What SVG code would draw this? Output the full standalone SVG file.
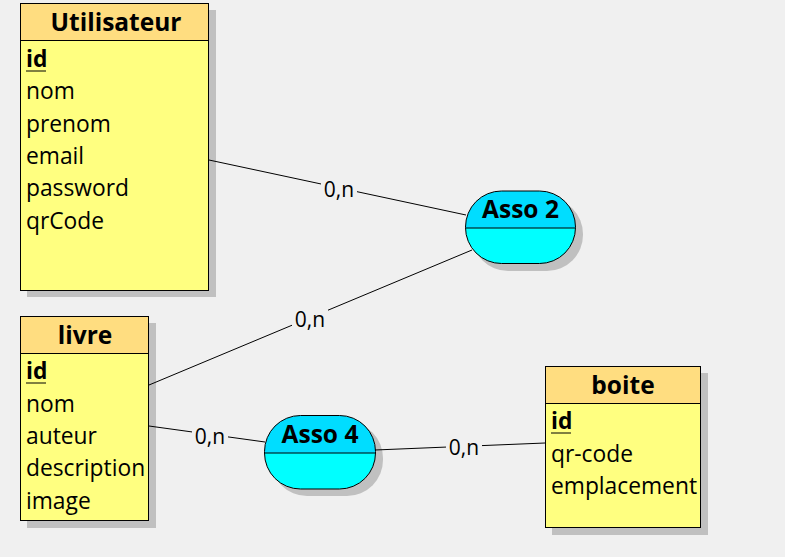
<svg xmlns="http://www.w3.org/2000/svg" width="785" height="557" viewBox="0 0 785 557">
<style>
.shadow{fill:#c0c0c0}
.head{fill:#ffdd80;stroke:#000;stroke-width:1}
.body{fill:#ffff80;stroke:#000;stroke-width:1}
.ahead{fill:#00ddff}
.abody{fill:#00ffff}
.aout{fill:none;stroke:#000;stroke-width:1}
.title{font-family:"Open Sans","DejaVu Sans",sans-serif;font-weight:bold;font-size:24.5px;text-anchor:middle;fill:#000}
.attr{font-family:"Open Sans","DejaVu Sans",sans-serif;font-size:22.8px;fill:#000}
.lbl{font-family:"Open Sans","DejaVu Sans",sans-serif;font-size:21px;fill:#000;text-anchor:middle}
.edge{stroke:#000;stroke-width:1;fill:none}
.bg{fill:#f0f0f0}
</style>
<rect width="785" height="557" fill="#f0f0f0"/>
<g id="Utilisateur">
<rect class="shadow" x="27" y="10" width="189" height="287"/>
<rect class="body" x="20.5" y="3.5" width="188" height="287"/>
<rect class="head" x="20.5" y="3.5" width="188" height="37"/>
<text class="title" x="116" y="31">Utilisateur</text>
<text class="attr" x="26" y="67" font-weight="bold">id</text>
<line x1="26" y1="71" x2="46" y2="71" stroke="#000" stroke-width="1"/>
<text class="attr" x="26" y="99">nom</text>
<text class="attr" x="26" y="132">prenom</text>
<text class="attr" x="26" y="164">email</text>
<text class="attr" x="26" y="196">password</text>
<text class="attr" x="26" y="229">qrCode</text>
</g>
<g id="livre">
<rect class="shadow" x="27" y="323" width="129" height="205"/>
<rect class="body" x="20.5" y="316.5" width="128" height="204"/>
<rect class="head" x="20.5" y="316.5" width="128" height="37"/>
<text class="title" x="85" y="344">livre</text>
<text class="attr" x="26" y="379" font-weight="bold">id</text>
<line x1="26" y1="383" x2="46" y2="383" stroke="#000" stroke-width="1"/>
<text class="attr" x="26" y="412">nom</text>
<text class="attr" x="26" y="444">auteur</text>
<text class="attr" x="26" y="476">description</text>
<text class="attr" x="26" y="509">image</text>
</g>
<g id="boite">
<rect class="shadow" x="552" y="373" width="156" height="162"/>
<rect class="body" x="545.5" y="366.5" width="155" height="161"/>
<rect class="head" x="545.5" y="366.5" width="155" height="37"/>
<text class="title" x="623" y="394">boite</text>
<text class="attr" x="551" y="429" font-weight="bold">id</text>
<line x1="551" y1="433" x2="571" y2="433" stroke="#000" stroke-width="1"/>
<text class="attr" x="551" y="462">qr-code</text>
<text class="attr" x="551" y="494">emplacement</text>
</g>
<g id="Asso2">
<rect class="shadow" x="472" y="198" width="111" height="73" rx="36" ry="36"/>
<path class="abody" d="M465.5,228 L575.5,228 L575.5,227 A36,36 0 0 1 539.5,263.5 L501.5,263.5 A36,36 0 0 1 465.5,227.5 Z"/>
<path class="ahead" d="M465.5,228 L465.5,227 A36,36 0 0 1 501.5,191 L539.5,191 A36,36 0 0 1 575.5,227 L575.5,228 Z"/>
<rect class="aout" x="465.5" y="191" width="110" height="72.5" rx="36" ry="36"/>
<line class="edge" x1="465.5" y1="228" x2="575.5" y2="228"/>
<text class="title" x="520.5" y="218">Asso 2</text>
</g>
<g id="Asso4">
<rect class="shadow" x="271" y="422" width="112" height="74" rx="36" ry="36"/>
<path class="abody" d="M264.5,453 L375.5,453 L375.5,452 A36,36 0 0 1 339.5,489 L300.5,489 A36,36 0 0 1 264.5,453 Z"/>
<path class="ahead" d="M264.5,453 L264.5,451 A36,36 0 0 1 300.5,415.5 L339.5,415.5 A36,36 0 0 1 375.5,451 L375.5,453 Z"/>
<rect class="aout" x="264.5" y="415.5" width="111" height="73.5" rx="36" ry="36"/>
<line class="edge" x1="264.5" y1="453" x2="375.5" y2="453"/>
<text class="title" x="320" y="443">Asso 4</text>
</g>
<g id="connectors">
<line class="edge" x1="209" y1="160" x2="466" y2="215"/>
<line class="edge" x1="149" y1="385" x2="472" y2="250"/>
<line class="edge" x1="149" y1="426" x2="265" y2="442"/>
<line class="edge" x1="375" y1="450" x2="545" y2="443"/>
<rect class="bg" x="321" y="178" width="36" height="22"/>
<text class="lbl" x="339" y="197">0,n</text>
<rect class="bg" x="292" y="308" width="36" height="22"/>
<text class="lbl" x="310" y="327">0,n</text>
<rect class="bg" x="192" y="425" width="36" height="22"/>
<text class="lbl" x="210" y="444">0,n</text>
<rect class="bg" x="446" y="436" width="36" height="22"/>
<text class="lbl" x="464" y="455">0,n</text>
</g>
</svg>
